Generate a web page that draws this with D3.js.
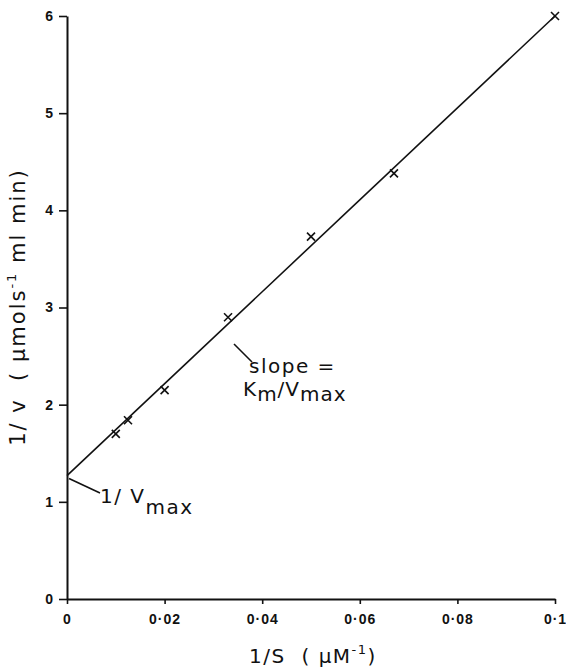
<!DOCTYPE html>
<html>
<head>
<meta charset="utf-8">
<script src="https://cdn.jsdelivr.net/npm/d3@7"></script>
<style>
  body { margin: 0; background: #fff; }
  svg { display: block; font-family: "DejaVu Sans", sans-serif; }
</style>
</head>
<body>
<div id="chart"></div>
<script>
// measured points: 1/S (uM^-1) and 1/v
const invS = [0.01, 0.0125, 0.02, 0.033, 0.05, 0.067, 0.1];
const invV = [1.70, 1.84, 2.15, 2.90, 3.73, 4.38, 6.00];

// fitted line end points
const fitX = [0, 0.1];
const fitY = [1.27, 6.0];

const xTicks = [0, 0.02, 0.04, 0.06, 0.08, 0.1];
const yTicks = [0, 1, 2, 3, 4, 5, 6];

const width = 566, height = 672;
const ink = "#111";

let svg = d3.select("#chart")
  .append("svg")
  .attr("width", width)
  .attr("height", height);

let x = d3.scaleLinear().domain([0, 0.1]).range([67, 555]);
let y = d3.scaleLinear().domain([0, 6]).range([599, 16]);

let fmtX = d => d === 0 ? "0" : String(+d.toFixed(2)).replace(".", "\u00b7");

// x axis
let gx = svg.append("g")
  .attr("transform", `translate(0,${y(0)})`)
  .call(d3.axisBottom(x).tickValues(xTicks).tickFormat(fmtX).tickSize(5).tickSizeOuter(0));

gx.select(".domain").attr("stroke", ink).attr("stroke-width", 2);
gx.selectAll(".tick line").attr("stroke", ink).attr("stroke-width", 1.6);
gx.selectAll(".tick text")
  .attr("y", 15)
  .attr("font-size", 14)
  .attr("font-weight", "bold")
  .attr("letter-spacing", 1)
  .attr("fill", ink);

// y axis
let gy = svg.append("g")
  .attr("transform", `translate(${x(0)},0)`)
  .call(d3.axisLeft(y).tickValues(yTicks).tickFormat(d3.format("d")).tickSize(8).tickSizeOuter(0));

gy.select(".domain").attr("stroke", ink).attr("stroke-width", 2);
gy.selectAll(".tick line").attr("stroke", ink).attr("stroke-width", 1.6);
gy.selectAll(".tick text")
  .attr("x", -14)
  .attr("font-size", 14)
  .attr("font-weight", "bold")
  .attr("fill", ink);

// axis titles
let xt = svg.append("text")
  .attr("x", 313)
  .attr("y", 663)
  .attr("text-anchor", "middle")
  .attr("font-size", 20)
  .attr("letter-spacing", 1.5)
  .attr("fill", ink)
  .attr("xml:space", "preserve");
xt.append("tspan").text("1/S  ( \u03bcM");
xt.append("tspan").attr("font-size", 13).attr("dy", -9).text("-1");
xt.append("tspan").attr("dy", 9).text(")");

let yt = svg.append("text")
  .attr("transform", "translate(25,307) rotate(-90)")
  .attr("text-anchor", "middle")
  .attr("font-size", 21)
  .attr("letter-spacing", 2)
  .attr("fill", ink)
  .attr("xml:space", "preserve");
yt.append("tspan").text("1/ v  ( \u03bcmols");
yt.append("tspan").attr("font-size", 13).attr("dy", -9).text("-1");
yt.append("tspan").attr("dy", 9).text(" ml min)");

// fitted line
let line = d3.line().x(d => x(d[0])).y(d => y(d[1]));
svg.append("path")
  .datum(d3.zip(fitX, fitY))
  .attr("d", line)
  .attr("fill", "none")
  .attr("stroke", ink)
  .attr("stroke-width", 1.6);

// crosses
let pts = d3.zip(invS, invV);
let r = 4;
svg.append("g")
  .selectAll("path")
  .data(pts)
  .join("path")
  .attr("d", d => {
    let cx = x(d[0]), cy = y(d[1]);
    return `M${cx - r},${cy - r}L${cx + r},${cy + r}M${cx - r},${cy + r}L${cx + r},${cy - r}`;
  })
  .attr("stroke", ink)
  .attr("stroke-width", 1.6);

// intercept label
svg.append("line")
  .attr("x1", x(0) + 2).attr("y1", y(fitY[0]) + 3)
  .attr("x2", 100).attr("y2", 493)
  .attr("stroke", ink).attr("stroke-width", 1.6);

let iv = svg.append("text")
  .attr("x", 100)
  .attr("y", 503)
  .attr("font-size", 20)
  .attr("letter-spacing", 1.5)
  .attr("fill", ink)
  .attr("xml:space", "preserve");
iv.append("tspan").text("1/ V");
iv.append("tspan").attr("dy", 11).text("max");

// slope label
svg.append("line")
  .attr("x1", 234).attr("y1", 344)
  .attr("x2", 252).attr("y2", 362)
  .attr("stroke", ink).attr("stroke-width", 1.6);

svg.append("text")
  .attr("x", 249)
  .attr("y", 373)
  .attr("font-size", 20)
  .attr("letter-spacing", 1.5)
  .attr("fill", ink)
  .text("slope =");

let km = svg.append("text")
  .attr("x", 243)
  .attr("y", 396)
  .attr("font-size", 20)
  .attr("letter-spacing", 1)
  .attr("fill", ink);
km.append("tspan").text("K");
km.append("tspan").attr("dy", 5).text("m");
km.append("tspan").attr("dy", -5).text("/V");
km.append("tspan").attr("dy", 5).text("max");
</script>
</body>
</html>
